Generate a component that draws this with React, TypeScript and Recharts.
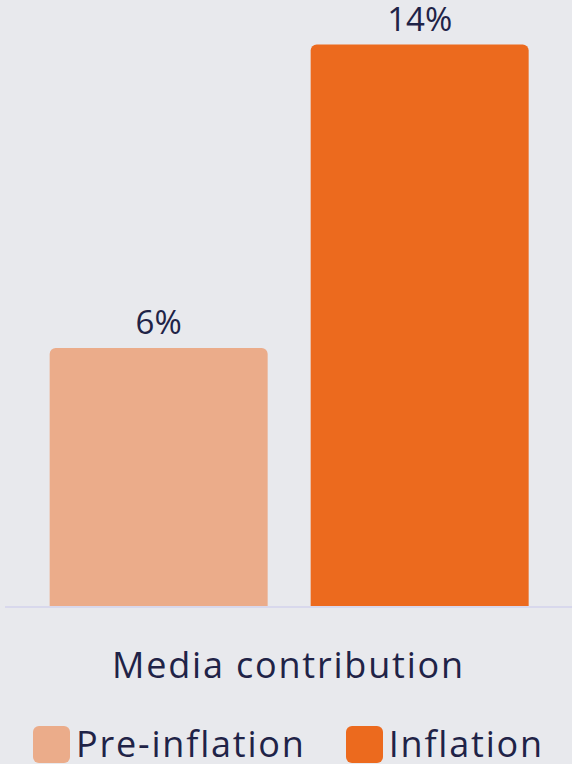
import { BarChart, Bar, XAxis, YAxis, Cell, LabelList, Legend, Label } from 'recharts';

const categories = ['Pre-inflation', 'Inflation'];
const values = [6.4, 13.9];
const colors = ['#ebac8a', '#ec6a1e'];

const TEXT = '#1f2347';
const FONT = '"Open Sans", sans-serif';

const chartData = categories.map((name, i) => ({ name, value: values[i] }));

function LegendContent() {
  return (
    <div style={{ display: 'flex', justifyContent: 'center', alignItems: 'center', gap: 40, height: 40, fontFamily: FONT, fontSize: 36, letterSpacing: 1.8, color: TEXT }}>
      {categories.map((c, i) => (
        <div key={c} style={{ display: 'flex', alignItems: 'center', gap: 6 }}>
          <span style={{ width: 37, height: 37, borderRadius: 6, background: colors[i], display: 'inline-block' }} />
          <span style={{ lineHeight: '40px' }}>{c}</span>
        </div>
      ))}
    </div>
  );
}

export default function App() {
  return (
    <div style={{ position: 'absolute', left: 0, top: 0, width: 572, height: 764, background: '#e8e9ed', overflow: 'hidden' }}>
      <BarChart
        width={572}
        height={764}
        data={chartData}
        margin={{ top: 0, right: 0, left: 5, bottom: 0 }}
        barCategoryGap="8.3%"
      >
        <XAxis
          dataKey="name"
          tick={false}
          tickLine={false}
          height={117}
          padding={{ left: 23, right: 22 }}
          axisLine={{ stroke: '#d8d8ec', strokeWidth: 2 }}
        >
          <Label value="Media contribution" position="center" fill={TEXT} fontSize={36} letterSpacing={1.8} fontFamily={FONT} />
        </XAxis>
        <YAxis hide domain={[0, 15]} />
        <Legend verticalAlign="bottom" content={<LegendContent />} />
        <Bar dataKey="value" radius={[6, 6, 0, 0]} isAnimationActive={false}>
          {chartData.map((d, i) => (
            <Cell key={d.name} fill={colors[i]} />
          ))}
          <LabelList
            dataKey="value"
            position="top"
            offset={14}
            formatter={(v: number) => `${Math.round(v)}%`}
            fill={TEXT}
            fontSize={33}
            fontFamily={FONT}
          />
        </Bar>
      </BarChart>
    </div>
  );
}
